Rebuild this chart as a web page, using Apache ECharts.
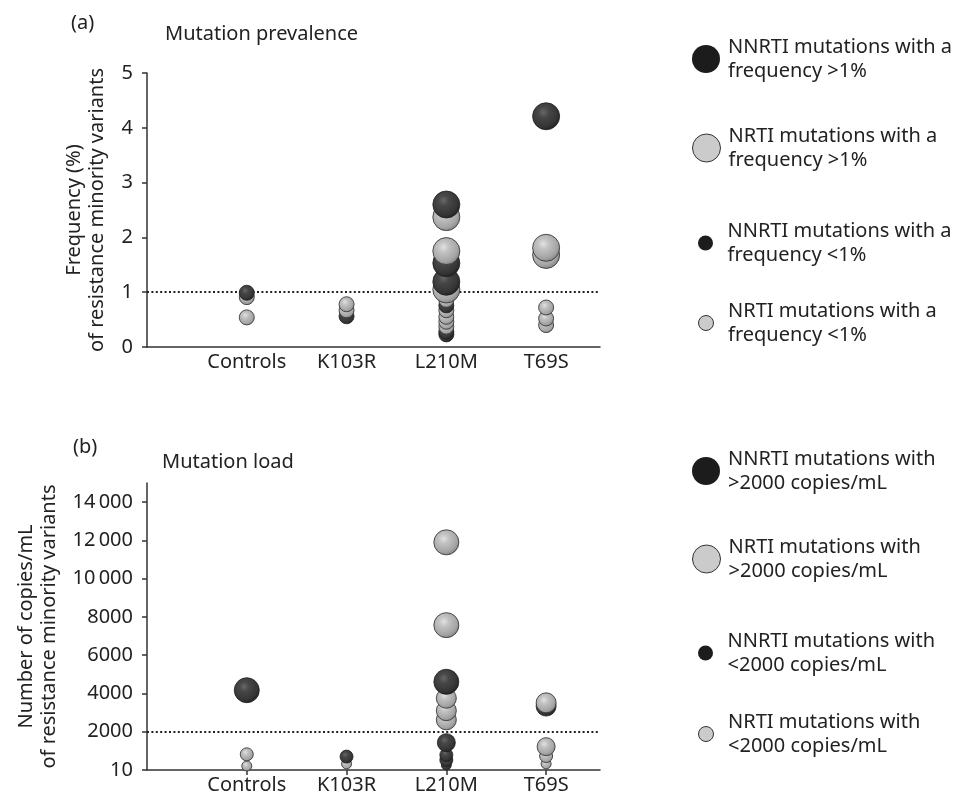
<!DOCTYPE html>
<html>
<head>
<meta charset="utf-8">
<script src="https://cdn.jsdelivr.net/npm/echarts@6/dist/echarts.min.js"></script>
<style>
html,body{margin:0;padding:0;background:#fff;}
#chart{width:961px;height:801px;}
</style>
</head>
<body>
<div id="chart"></div>
<script>
// ---- data ----
const categories = ['Controls', 'K103R', 'L210M', 'T69S'];
const prevTickValues = [0, 1, 2, 3, 4, 5];
const prevTickLabels = ['0', '1', '2', '3', '4', '5'];
const loadTickValues = [0, 2000, 4000, 6000, 8000, 10000, 12000, 14000];
const loadTickLabels = ['10', '2000', '4000', '6000', '8000', '10\u2009000', '12\u2009000', '14\u2009000'];
const prevThreshold = 1;
const loadThreshold = 2000;

// (a) mutation prevalence, frequency (%)
const prevNNRTIHigh = [['L210M', 2.60], ['L210M', 1.53], ['L210M', 1.19], ['T69S', 4.21]];
const prevNRTIHigh = [['L210M', 2.37], ['L210M', 1.75], ['L210M', 1.05], ['T69S', 1.81], ['T69S', 1.68]];
const prevNNRTILow = [['Controls', 0.99], ['K103R', 0.56], ['L210M', 0.76], ['L210M', 0.28], ['L210M', 0.23]];
const prevNRTILow = [['Controls', 0.91], ['Controls', 0.54], ['K103R', 0.78], ['K103R', 0.67],
  ['L210M', 0.86], ['L210M', 0.67], ['L210M', 0.55], ['L210M', 0.46], ['L210M', 0.37],
  ['T69S', 0.72], ['T69S', 0.52], ['T69S', 0.40]];

// (b) mutation load, copies/mL
const loadNNRTIHigh = [['Controls', 4170], ['L210M', 4610], ['T69S', 3340]];
const loadNRTIHigh = [['L210M', 11900], ['L210M', 7570], ['L210M', 3750], ['L210M', 3100], ['L210M', 2620], ['T69S', 3510]];
const loadNNRTILow = [['K103R', 700], ['L210M', 1430], ['L210M', 790], ['L210M', 520], ['L210M', 260]];
const loadNRTILow = [['Controls', 820], ['Controls', 210], ['K103R', 320], ['T69S', 1220], ['T69S', 730], ['T69S', 320]];

const namesA = ['NNRTI mutations with a\nfrequency >1%', 'NRTI mutations with a\nfrequency >1%',
  'NNRTI mutations with a\nfrequency <1%', 'NRTI mutations with a\nfrequency <1%'];
const namesB = ['NNRTI mutations with\n>2000 copies/mL', 'NRTI mutations with\n>2000 copies/mL',
  'NNRTI mutations with\n<2000 copies/mL', 'NRTI mutations with\n<2000 copies/mL'];

// ---- styles ----
const FONT = 'Noto Sans';
const FS = 20;
const TXT = '#222';
const darkFill = {type: 'radial', x: 0.4, y: 0.36, r: 0.64, colorStops: [
  {offset: 0, color: '#686868'}, {offset: 0.3, color: '#474747'}, {offset: 0.8, color: '#353535'}, {offset: 1, color: '#242424'}]};
const lightFill = {type: 'radial', x: 0.4, y: 0.36, r: 0.64, colorStops: [
  {offset: 0, color: '#e2e2e2'}, {offset: 0.3, color: '#c2c2c2'}, {offset: 0.8, color: '#a4a4a4'}, {offset: 1, color: '#888'}]};
const styleOf = [
  {color: darkFill, borderColor: '#1e1e1e', borderWidth: 0.8, opacity: 1},
  {color: lightFill, borderColor: '#3a3a3a', borderWidth: 0.9, opacity: 1},
  {color: darkFill, borderColor: '#1e1e1e', borderWidth: 0.8, opacity: 1},
  {color: lightFill, borderColor: '#3a3a3a', borderWidth: 0.9, opacity: 1}
];
function sizeA(type, v) { return type < 2 ? 27 : 15; }
function sizeB(type, v) {
  if (type < 2) return v >= 4000 ? 25 : 20;
  if (v >= 1000) return 18;
  if (v >= 450) return 13;
  return 10;
}
function build(groups, sizeFn) {
  const pts = [];
  groups.forEach((g, type) => g.forEach(d => {
    pts.push({value: [categories.indexOf(d[0]) + 1, d[1]], symbolSize: sizeFn(type, d[1]), itemStyle: styleOf[type]});
  }));
  pts.sort((a, b) => a.value[1] - b.value[1]);
  return pts;
}
const ptsA = build([prevNNRTIHigh, prevNRTIHigh, prevNNRTILow, prevNRTILow], sizeA);
const ptsB = build([loadNNRTIHigh, loadNRTIHigh, loadNNRTILow, loadNRTILow], sizeB);

const legendIcon = [
  {size: 28, left: 692, style: {color: '#1c1c1c', borderWidth: 0, opacity: 1}},
  {size: 28, left: 692, style: {color: '#cbcbcb', borderColor: '#333', borderWidth: 1, opacity: 1}},
  {size: 15, left: 698, style: {color: '#1c1c1c', borderWidth: 0, opacity: 1}},
  {size: 15, left: 698, style: {color: '#cbcbcb', borderColor: '#333', borderWidth: 1, opacity: 1}}
];
const legendCentersA = [59, 148, 243, 323];
const legendCentersB = [471, 559, 653, 734];
const legends = [];
function addLegends(names, centers) {
  names.forEach((n, i) => {
    legends.push({
      left: legendIcon[i].left, top: centers[i] - 24, padding: 0, orient: 'vertical',
      itemWidth: 34, itemHeight: legendIcon[i].size, selectedMode: false,
      icon: 'circle',
      textStyle: {fontFamily: FONT, fontSize: FS, color: TXT, lineHeight: 24},
      data: [{name: n, icon: 'circle', itemStyle: legendIcon[i].style}]
    });
  });
}
addLegends(namesA, legendCentersA);
addLegends(namesB, legendCentersB);

const axisLineStyle = {color: '#333', width: 1.5};
function xAxis(grid, ticks) {
  return {
    type: 'value', gridIndex: grid, min: 0, max: 4.54,
    splitLine: {show: false},
    axisLine: {show: true, lineStyle: axisLineStyle},
    axisTick: {show: ticks, inside: false, length: 5, customValues: [1, 2, 3, 4], lineStyle: axisLineStyle},
    axisLabel: {customValues: [1, 2, 3, 4], margin: 5, fontFamily: FONT, fontSize: FS, color: TXT,
      formatter: v => categories[Math.round(v) - 1] || ''}
  };
}
function yAxis(grid, max, tv, tl, name, gap) {
  return {
    type: 'value', gridIndex: grid, min: 0, max: max,
    splitLine: {show: false},
    axisLine: {show: true, lineStyle: axisLineStyle},
    axisTick: {show: true, length: 5, customValues: tv, lineStyle: axisLineStyle},
    axisLabel: {customValues: tv, margin: 14, fontFamily: FONT, fontSize: FS, color: TXT,
      formatter: v => tl[tv.indexOf(v)] ?? ''},
    name: name, nameLocation: 'middle', nameRotate: 90, nameGap: gap,
    nameTextStyle: {fontFamily: FONT, fontSize: FS, color: TXT, lineHeight: 23}
  };
}

const thresholdLine = (grid, v) => ({
  type: 'scatter', xAxisIndex: grid, yAxisIndex: grid, data: [], silent: true, z: 1,
  markLine: {silent: true, z: 1, symbol: ['none', 'none'], label: {show: false},
    lineStyle: {type: [2, 2.4], color: '#222', width: 2}, data: [{yAxis: v}]}
});

const series = [
  thresholdLine(0, prevThreshold),
  thresholdLine(1, loadThreshold),
  {type: 'scatter', name: 'prevalence', xAxisIndex: 0, yAxisIndex: 0, z: 3, data: ptsA, symbol: 'circle', itemStyle: {opacity: 1}},
  {type: 'scatter', name: 'load', xAxisIndex: 1, yAxisIndex: 1, z: 3, data: ptsB, symbol: 'circle', itemStyle: {opacity: 1}}
];
namesA.forEach((n, i) => series.push({type: 'scatter', name: n, xAxisIndex: 0, yAxisIndex: 0, data: [], itemStyle: legendIcon[i].style}));
namesB.forEach((n, i) => series.push({type: 'scatter', name: n, xAxisIndex: 1, yAxisIndex: 1, data: [], itemStyle: legendIcon[i].style}));

const titleStyle = {fontFamily: FONT, fontSize: FS, fontWeight: 'normal', color: TXT};
const chart = echarts.init(document.getElementById('chart'), null, {renderer: 'canvas'});
chart.setOption({
  backgroundColor: '#fff',
  animation: false,
  textStyle: {fontFamily: FONT},
  title: [
    {text: '(a)', left: 66, top: 8, textStyle: titleStyle},
    {text: 'Mutation prevalence', left: 160, top: 19, textStyle: titleStyle},
    {text: '(b)', left: 68, top: 432, textStyle: titleStyle},
    {text: 'Mutation load', left: 157, top: 447, textStyle: titleStyle}
  ],
  legend: legends,
  grid: [
    {left: 147, top: 73, width: 453, height: 274, containLabel: false},
    {left: 147, top: 483, width: 453, height: 287, containLabel: false}
  ],
  xAxis: [xAxis(0, false), xAxis(1, true)],
  yAxis: [
    yAxis(0, 5, prevTickValues, prevTickLabels, 'Frequency (%)\nof resistance minority variants', 38),
    yAxis(1, 15000, loadTickValues, loadTickLabels, 'Number of copies/mL\nof resistance minority variants', 86)
  ],
  series: series
});
</script>
</body>
</html>
